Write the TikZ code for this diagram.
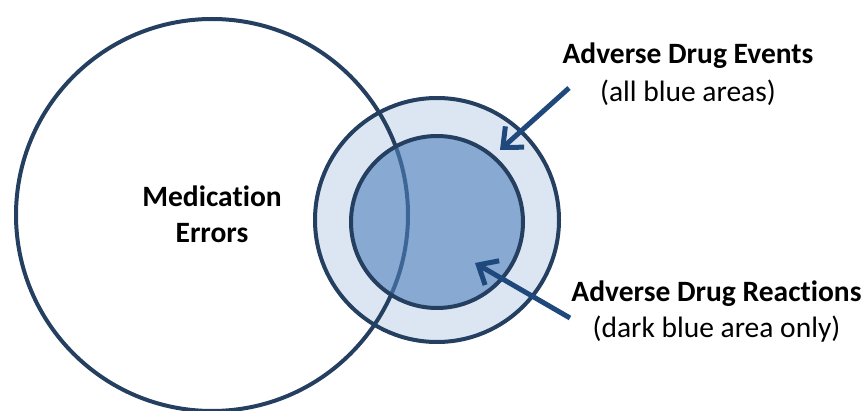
\documentclass[tikz,border=0pt]{standalone}
\usepackage{fontspec}
\setmainfont{Carlito}[RawFeature=-liga]
\usetikzlibrary{arrows.meta}
\definecolor{navy}{HTML}{243F60}
\definecolor{lightblue}{HTML}{DCE6F2}
\definecolor{darkblue}{HTML}{4F81BD}
\definecolor{arrowblue}{HTML}{1F497D}
\begin{document}
\begin{tikzpicture}[x=1pt,y=1pt,line join=round,line cap=round,
	ring/.style={draw=navy,line width=4pt},
	pointer/.style={draw=arrowblue,line width=5pt,line cap=butt,-{Straight Barb[length=16pt,width=28pt]}},
	notetext/.style={align=center,font=\fontsize{29.5}{36}\selectfont,anchor=base,inner sep=0pt}]
	\useasboundingbox (0,0) rectangle (865,410);
	\path
	(212,195) coordinate (ME)
	(437,190) coordinate (ADE)
	(437,188) coordinate (ADR)
	(569,322) coordinate (P1)
	(500,260) coordinate (T1)
	(570,92) coordinate (P2)
	(475,147) coordinate (T2)
	;
	\fill[lightblue] (ADE) circle (122);
	\draw[ring] (ADE) circle (122);
	\draw[ring] (ME) circle (196);
	\filldraw[ring,fill=darkblue,fill opacity=0.6] (ADR) circle (86);
	\draw[pointer] (P1) -- (T1);
	\draw[pointer] (P2) -- (T2);
	\node[notetext] (me) at (212,167.7) {\bfseries Medication\\\bfseries Errors};
	\node[notetext] (ade) at (688,308) {\bfseries Adverse Drug Events\\[2pt](all blue areas)};
	\node[notetext] (adr) at (716.5,72.5) {\bfseries Adverse Drug Reactions\\(dark blue area only)};
\end{tikzpicture}
\end{document}
